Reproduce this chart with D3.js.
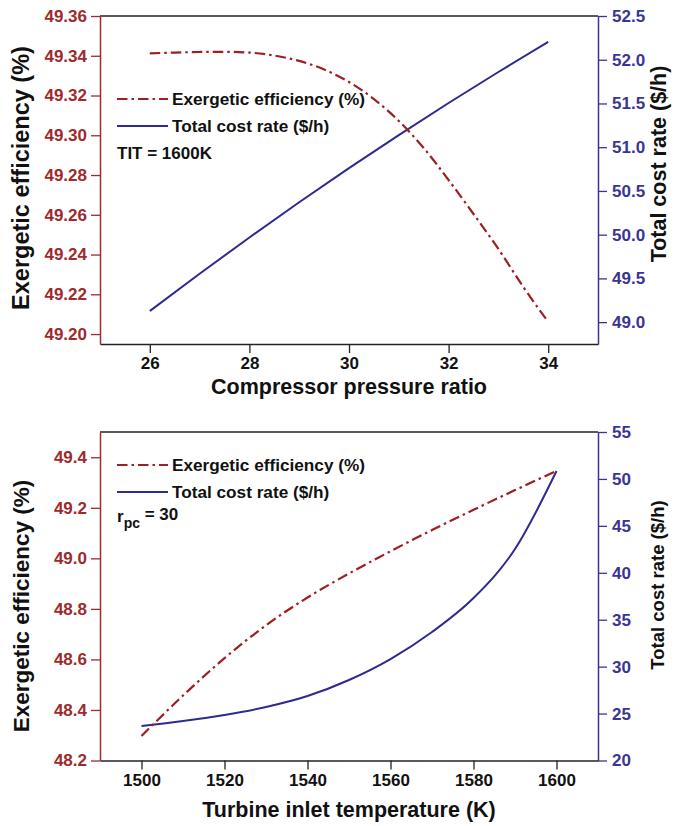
<!DOCTYPE html>
<html><head><meta charset="utf-8">
<script src="https://cdn.jsdelivr.net/npm/d3@7"></script>
<style>
body{margin:0;background:#fff;}
svg{display:block;font-family:"Liberation Sans",Arial,sans-serif;font-weight:bold;}
</style></head>
<body>
<svg id="c" width="682" height="826"></svg>
<script>
// ---- Top panel data (TIT = 1600 K) ----
const pressureRatioEff = [26, 26.5, 27, 27.5, 28, 28.5, 29, 29.5, 30, 30.5, 31, 31.5, 32, 32.5, 33, 33.5, 34];
const effTop = [49.3412, 49.3416, 49.3419, 49.3420, 49.3416, 49.3401, 49.3374, 49.3331, 49.3268,
                49.3182, 49.3072, 49.2936, 49.2775, 49.2604, 49.2428, 49.2237, 49.2061];
const pressureRatioCost = [26, 27, 28, 29, 30, 31, 32, 33, 34];
const costTop = [49.127, 49.553, 49.968, 50.370, 50.760, 51.138, 51.505, 51.860, 52.203];
const topXTicks = [26, 28, 30, 32, 34];
const topLeftTicks = [49.20, 49.22, 49.24, 49.26, 49.28, 49.30, 49.32, 49.34, 49.36];
const topRightTicks = [49.0, 49.5, 50.0, 50.5, 51.0, 51.5, 52.0, 52.5];

// ---- Bottom panel data (r_pc = 30) ----
const tit = [1500, 1510, 1520, 1530, 1540, 1550, 1560, 1570, 1580, 1590, 1600];
const effBot = [48.297, 48.457, 48.605, 48.735, 48.845, 48.940, 49.028, 49.112, 49.192, 49.270, 49.346];
const costBot = [23.68, 24.21, 24.85, 25.70, 26.87, 28.58, 30.81, 33.69, 37.31, 42.53, 50.84];
const botXTicks = [1500, 1520, 1540, 1560, 1580, 1600];
const botLeftTicks = [48.2, 48.4, 48.6, 48.8, 49.0, 49.2, 49.4];
const botRightTicks = [20, 25, 30, 35, 40, 45, 50, 55];

const legendLabels = ["Exergetic efficiency (%)", "Total cost rate ($/h)"];

const RED = "#9c1f22", BLUE = "#2e2a8f", RED_AX = "#a0292c", BLUE_AX = "#3b3497";
const svg = d3.select("#c");
const L = 100, R = 598;
const FONT = "Liberation Sans,Arial,sans-serif";

function styleAxis(sel, color) {
  sel.selectAll("path").attr("stroke", color).attr("stroke-width", 1.5);
  sel.selectAll("line").attr("stroke", color).attr("stroke-width", 1.3);
  sel.selectAll("text").attr("fill", color).style("font-size", "17px").style("font-weight", "bold")
    .style("font-family", FONT);
}

function panel(o) {
  const g = svg.append("g");
  const x = d3.scaleLinear().domain(o.xDom).range([L, R]);
  const yl = d3.scaleLinear().domain(o.ylDom).range([o.bot, o.top]);
  const yr = d3.scaleLinear().domain(o.yrDom).range([o.bot, o.top]);

  // lines
  const effLine = d3.line().x((d, i) => x(o.xsEff[i])).y(d => yl(d)).curve(d3.curveMonotoneX);
  const costLine = d3.line().x((d, i) => x(o.xsCost[i])).y(d => yr(d)).curve(d3.curveMonotoneX);
  g.append("path").attr("d", costLine(o.cost)).attr("fill", "none").attr("stroke", BLUE).attr("stroke-width", 2);
  g.append("path").attr("d", effLine(o.eff)).attr("fill", "none").attr("stroke", RED).attr("stroke-width", 2.2)
    .attr("stroke-dasharray", "10.5,4,2.5,4");

  // top frame line
  g.append("line").attr("x1", L).attr("x2", R).attr("y1", o.top).attr("y2", o.top)
    .attr("stroke", "#222").attr("stroke-width", 1.6);

  // bottom axis
  const bx = g.append("g").attr("transform", `translate(0,${o.bot})`);
  bx.call(d3.axisBottom(x).tickValues(o.xMinor).tickSize(5).tickSizeOuter(0).tickFormat(""));
  bx.call(d3.axisBottom(x).tickValues(o.xTicks).tickSize(9).tickSizeOuter(0).tickPadding(4).tickFormat(d3.format("d")));
  styleAxis(bx, "#222");
  bx.selectAll("text").attr("fill", "#111");

  // left axis
  const ly = g.append("g").attr("transform", `translate(${L},0)`);
  ly.call(d3.axisLeft(yl).tickValues(o.ylMinor).tickSize(5).tickSizeOuter(0).tickFormat(""));
  ly.call(d3.axisLeft(yl).tickValues(o.ylTicks).tickSize(9).tickSizeOuter(0).tickPadding(4).tickFormat(d3.format(o.ylFmt)));
  styleAxis(ly, RED_AX);

  // right axis
  const ry = g.append("g").attr("transform", `translate(${R},0)`);
  ry.call(d3.axisRight(yr).tickValues(o.yrMinor).tickSize(5).tickSizeOuter(0).tickFormat(""));
  ry.call(d3.axisRight(yr).tickValues(o.yrTicks).tickSize(9).tickSizeOuter(0).tickPadding(5).tickFormat(d3.format(o.yrFmt)));
  styleAxis(ry, BLUE_AX);

  // axis titles
  g.append("text").attr("x", (L + R) / 2).attr("y", o.xTitleY).attr("text-anchor", "middle")
    .style("font-size", "21.5px").attr("fill", "#111").text(o.xTitle);
  g.append("text").attr("transform", `translate(${o.lTitleX},${o.lTitleC}) rotate(-90)`).attr("text-anchor", "middle")
    .style("font-size", o.lTitleSize).attr("fill", "#111").text("Exergetic efficiency (%)");
  g.append("text").attr("transform", `translate(${o.rTitleX},${o.rTitleC}) rotate(-90)`).attr("text-anchor", "middle")
    .style("font-size", o.rTitleSize).attr("fill", "#111").text("Total cost rate ($/h)");

  // legend
  const lg = g.append("g");
  lg.append("line").attr("x1", 117).attr("x2", 168).attr("y1", o.legY).attr("y2", o.legY)
    .attr("stroke", RED).attr("stroke-width", 2.2).attr("stroke-dasharray", "10.5,4,2.5,4");
  lg.append("text").attr("x", 172).attr("y", o.legY + 6).style("font-size", "17.2px").attr("fill", "#111").text(legendLabels[0]);
  lg.append("line").attr("x1", 117).attr("x2", 168).attr("y1", o.legY + 27).attr("y2", o.legY + 27)
    .attr("stroke", BLUE).attr("stroke-width", 2);
  lg.append("text").attr("x", 172).attr("y", o.legY + 33).style("font-size", "17.2px").attr("fill", "#111").text(legendLabels[1]);
  return {g, x, yl, yr};
}

const p1 = panel({
  top: 16, bot: 344,
  xDom: [25, 35], ylDom: [49.195, 49.36], yrDom: [48.75, 52.5],
  xTicks: topXTicks, xMinor: [27, 29, 31, 33],
  ylTicks: topLeftTicks, ylMinor: [49.21, 49.23, 49.25, 49.27, 49.29, 49.31, 49.33, 49.35], ylFmt: ".2f",
  yrTicks: topRightTicks, yrMinor: [48.75, 49.25, 49.75, 50.25, 50.75, 51.25, 51.75, 52.25], yrFmt: ".1f",
  xsEff: pressureRatioEff, eff: effTop, xsCost: pressureRatioCost, cost: costTop,
  xTitle: "Compressor pressure ratio", xTitleY: 394,
  lTitleX: 29, lTitleC: 178, lTitleSize: "23.5px",
  rTitleX: 666, rTitleC: 164, rTitleSize: "21.5px",
  legY: 99
});
p1.g.append("text").attr("x", 117).attr("y", 159).style("font-size", "17px").attr("fill", "#111").text("TIT = 1600K");

const p2 = panel({
  top: 432, bot: 760.5,
  xDom: [1490, 1610], ylDom: [48.2, 49.5], yrDom: [20, 55],
  xTicks: botXTicks, xMinor: [1510, 1530, 1550, 1570, 1590],
  ylTicks: botLeftTicks, ylMinor: [48.3, 48.5, 48.7, 48.9, 49.1, 49.3], ylFmt: ".1f",
  yrTicks: botRightTicks, yrMinor: [22.5, 27.5, 32.5, 37.5, 42.5, 47.5, 52.5], yrFmt: "d",
  xsEff: tit, eff: effBot, xsCost: tit, cost: costBot,
  xTitle: "Turbine inlet temperature (K)", xTitleY: 817,
  lTitleX: 29, lTitleC: 606, lTitleSize: "22.5px",
  rTitleX: 664, rTitleC: 585, rTitleSize: "18.5px",
  legY: 465
});
const rt = p2.g.append("text").attr("x", 117).attr("y", 522).style("font-size", "17px").attr("fill", "#111");
rt.append("tspan").text("r");
rt.append("tspan").attr("dy", 6).style("font-size", "14px").text("pc");
rt.append("tspan").attr("dy", -8).text(" = 30");
</script>
</body></html>
